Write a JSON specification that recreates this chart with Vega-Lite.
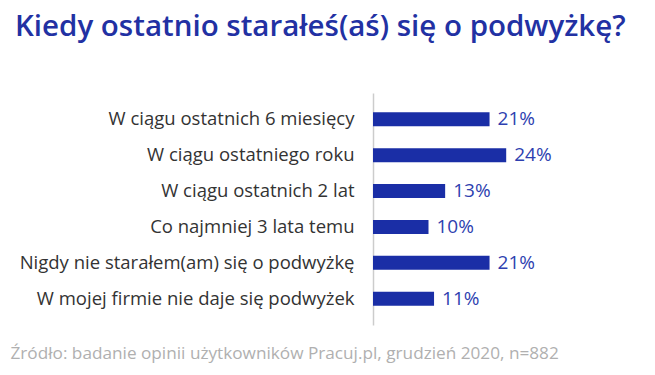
{
  "$schema": "https://vega.github.io/schema/vega-lite/v6.json",
  "width": 222,
  "height": 232,
  "autosize": {"type": "none"},
  "padding": {"left": 373, "top": 93, "right": 60, "bottom": 50},
  "background": "white",
  "config": {"view": {"stroke": null}, "font": "Open Sans"},
  "title": {
    "text": "Kiedy ostatnio starałeś(aś) się o podwyżkę?",
    "anchor": "start",
    "frame": "group",
    "dx": -358,
    "offset": 28,
    "baseline": "alphabetic",
    "font": "Open Sans",
    "fontSize": 29.5,
    "fontWeight": 600,
    "color": "#2231a3"
  },
  "data": {
    "values": [
      {"kategoria": "W ciągu ostatnich 6 miesięcy", "wartosc": 21, "label": "21%"},
      {"kategoria": "W ciągu ostatniego roku", "wartosc": 24, "label": "24%"},
      {"kategoria": "W ciągu ostatnich 2 lat", "wartosc": 13, "label": "13%"},
      {"kategoria": "Co najmniej 3 lata temu", "wartosc": 10, "label": "10%"},
      {"kategoria": "Nigdy nie starałem(am) się o podwyżkę", "wartosc": 21, "label": "21%"},
      {"kategoria": "W mojej firmie nie daje się podwyżek", "wartosc": 11, "label": "11%"}
    ]
  },
  "encoding": {
    "y": {
      "field": "kategoria",
      "type": "nominal",
      "sort": null,
      "scale": {"paddingInner": 0.61, "paddingOuter": 0.54},
      "axis": {
        "title": null,
        "ticks": false,
        "labelPadding": 19,
        "labelFont": "Open Sans",
        "labelFontSize": 18.5,
        "labelColor": "#333333",
        "labelLimit": 400,
        "domainColor": "#cccccc",
        "domainWidth": 1.5
      }
    },
    "x": {
      "field": "wartosc",
      "type": "quantitative",
      "scale": {"domain": [0, 40], "nice": false},
      "axis": {
        "labels": false,
        "ticks": false,
        "domain": false,
        "grid": false,
        "title": "Źródło: badanie opinii użytkowników Pracuj.pl, grudzień 2020, n=882",
        "titleAnchor": "start",
        "titleAlign": "left",
        "titleX": -363,
        "titleY": 33,
        "titleBaseline": "alphabetic",
        "titleFont": "Open Sans",
        "titleFontSize": 17.2,
        "titleFontWeight": "normal",
        "titleColor": "#b0b0b0"
      }
    }
  },
  "layer": [
    {"mark": {"type": "bar", "color": "#1a2ea6"}},
    {
      "mark": {"type": "text", "align": "left", "baseline": "middle", "dx": 8, "font": "Open Sans", "fontSize": 19, "color": "#2e3fb0"},
      "encoding": {"text": {"field": "label"}}
    }
  ]
}
